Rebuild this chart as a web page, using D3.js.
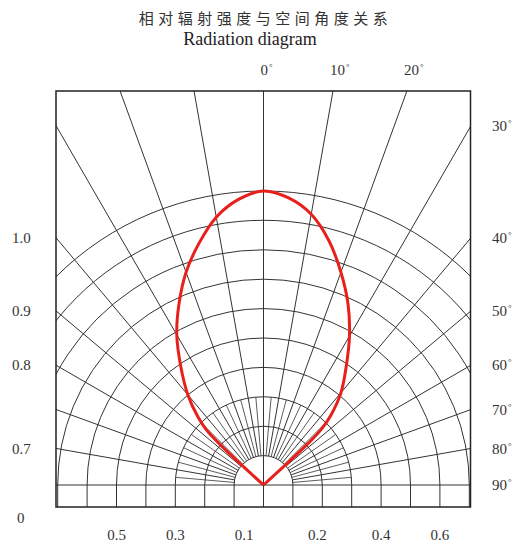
<!DOCTYPE html>
<html>
<head>
<meta charset="utf-8">
<script src="https://cdn.jsdelivr.net/npm/d3@7/dist/d3.min.js"></script>
<style>
  html, body { margin: 0; padding: 0; background: #fff; }
  svg { display: block; }
</style>
</head>
<body>
<svg id="chart" width="521" height="545"></svg>
<script>
// ---------- data ----------
const titleCN = "相对辐射强度与空间角度关系";
const titleEN = "Radiation diagram";
const ringValues = [0.1, 0.2, 0.3, 0.4, 0.5, 0.6, 0.7, 0.8, 0.9, 1.0];
const spokeAngles = [10, 20, 30, 40, 50, 60, 70, 80];
const minorSpokeAngles = [5, 15, 25, 35, 45, 55, 65, 75, 85];
const topAngleLabels = [0, 10, 20];
const rightAngleLabels = [30, 40, 50, 60, 70, 80, 90];
const leftLabels = ["1.0", "0.9", "0.8", "0.7"];
const leftLabelAngles = [40, 50, 60, 80];
const bottomLeftValues = [0.5, 0.3, 0.1];
const bottomRightValues = [0.2, 0.4, 0.6];
// radiation pattern (angle in degrees off axis, relative intensity)
const patternAngles = [0, 5, 10, 15, 20, 25, 30, 35, 40, 44, 46, 47, 47.5, 48];
const intensityRight = [1.0, 0.98, 0.935, 0.86, 0.77, 0.68, 0.585, 0.49, 0.41, 0.33, 0.275, 0.21, 0.1, 0];
const intensityLeft  = [1.0, 0.975, 0.925, 0.85, 0.77, 0.68, 0.59, 0.49, 0.40, 0.32, 0.27, 0.20, 0.1, 0];

// ---------- layout ----------
const svg = d3.select("#chart");
const box = { x0: 56, x1: 470.5, y0: 91, y1: 507 };
const cx = 263.5, cy = 485;
const r = d3.scaleLinear().domain([0, 1]).range([0, 294]);
const rad = d => d * Math.PI / 180;
const gridColor = "#333";
const textColor = "#333";
const serif = "'Liberation Serif', 'Times New Roman', serif";

svg.append("defs").append("clipPath").attr("id", "clip")
  .append("rect").attr("x", box.x0).attr("y", box.y0)
  .attr("width", box.x1 - box.x0).attr("height", box.y1 - box.y0);

const grid = svg.append("g").attr("clip-path", "url(#clip)")
  .attr("fill", "none").attr("stroke", gridColor).attr("stroke-width", 1);

// rings: upper semicircles, continued straight down below the horizontal line
ringValues.forEach(v => {
  const rr = r(v);
  const p = d3.path();
  p.moveTo(cx - rr, box.y1);
  p.lineTo(cx - rr, cy);
  p.arc(cx, cy, rr, Math.PI, 2 * Math.PI, false);
  p.lineTo(cx + rr, box.y1);
  grid.append("path").attr("d", p.toString());
});

// spokes (angle measured from vertical axis), starting at the innermost ring
function spoke(a, r0, r1, w) {
  [-1, 1].forEach(s => {
    const t = rad(a) * s;
    grid.append("line")
      .attr("x1", cx + r0 * Math.sin(t)).attr("y1", cy - r0 * Math.cos(t))
      .attr("x2", cx + r1 * Math.sin(t)).attr("y2", cy - r1 * Math.cos(t))
      .attr("stroke-width", w);
  });
}
spokeAngles.forEach(a => spoke(a, r(ringValues[0]), 800, 1));
minorSpokeAngles.forEach(a => spoke(a, r(ringValues[0]), r(ringValues[2]), 0.8));
// main axes
grid.append("line").attr("x1", cx).attr("y1", box.y0).attr("x2", cx).attr("y2", box.y1);
grid.append("line").attr("x1", box.x0).attr("y1", cy).attr("x2", box.x1).attr("y2", cy);

// frame
svg.append("rect").attr("x", box.x0).attr("y", box.y0)
  .attr("width", box.x1 - box.x0).attr("height", box.y1 - box.y0)
  .attr("fill", "none").attr("stroke", "#222").attr("stroke-width", 1.5);

// radiation curve
const pts = [];
for (let i = patternAngles.length - 1; i >= 0; i--) pts.push([-rad(patternAngles[i]), r(intensityLeft[i])]);
for (let i = 1; i < patternAngles.length; i++) pts.push([rad(patternAngles[i]), r(intensityRight[i])]);
const radial = d3.lineRadial().angle(d => d[0]).radius(d => d[1]).curve(d3.curveCatmullRom.alpha(0.5));
svg.append("path").attr("d", radial(pts))
  .attr("transform", `translate(${cx},${cy})`)
  .attr("fill", "none").attr("stroke", "#e8201c").attr("stroke-width", 3)
  .attr("stroke-linejoin", "round");

// ---------- text ----------
svg.append("text").attr("x", cx + 2).attr("y", 24).attr("text-anchor", "middle")
  .attr("font-family", "'Noto Sans CJK SC', sans-serif").attr("font-size", 15)
  .attr("font-weight", 400).attr("letter-spacing", 4.5).attr("fill", "#333")
  .text(titleCN);
svg.append("text").attr("x", 250).attr("y", 45).attr("text-anchor", "middle")
  .attr("font-family", serif).attr("font-size", 18).attr("fill", "#222")
  .text(titleEN);

function degLabel(x, y, a, anchor) {
  const t = svg.append("text").attr("x", x).attr("y", y)
    .attr("text-anchor", anchor || "start")
    .attr("font-family", serif).attr("font-size", 15).attr("fill", textColor);
  t.append("tspan").text(a);
  t.append("tspan").attr("dy", -5).attr("dx", 1).attr("font-size", 9).text("°");
}
// where a spoke meets the frame
function edgeTop(a) { return cx + (cy - box.y0) * Math.tan(rad(a)); }
function edgeSideY(a) { return a >= 90 ? cy : cy - (box.x1 - cx) / Math.tan(rad(a)); }

topAngleLabels.forEach(a => degLabel(edgeTop(a) - 3, 75, a));
rightAngleLabels.forEach(a => {
  const y = Math.max(edgeSideY(a), 117);
  degLabel(492, y + 5, a);
});
leftLabels.forEach((l, i) => {
  svg.append("text").attr("x", 12).attr("y", edgeSideY(leftLabelAngles[i]) + 5)
    .attr("font-family", serif).attr("font-size", 15).attr("fill", textColor).text(l);
});
svg.append("text").attr("x", 17).attr("y", 523)
  .attr("font-family", serif).attr("font-size", 15).attr("fill", textColor).text("0");

function bottomLabel(v, side) {
  let off = r(v);
  if (v <= 0.1) off -= 10; else if (v <= 0.2) off -= 5;
  svg.append("text").attr("x", cx + side * off).attr("y", 540).attr("text-anchor", "middle")
    .attr("font-family", serif).attr("font-size", 15).attr("fill", textColor).text(v.toFixed(1));
}
bottomLeftValues.forEach(v => bottomLabel(v, -1));
bottomRightValues.forEach(v => bottomLabel(v, 1));
</script>
</body>
</html>
